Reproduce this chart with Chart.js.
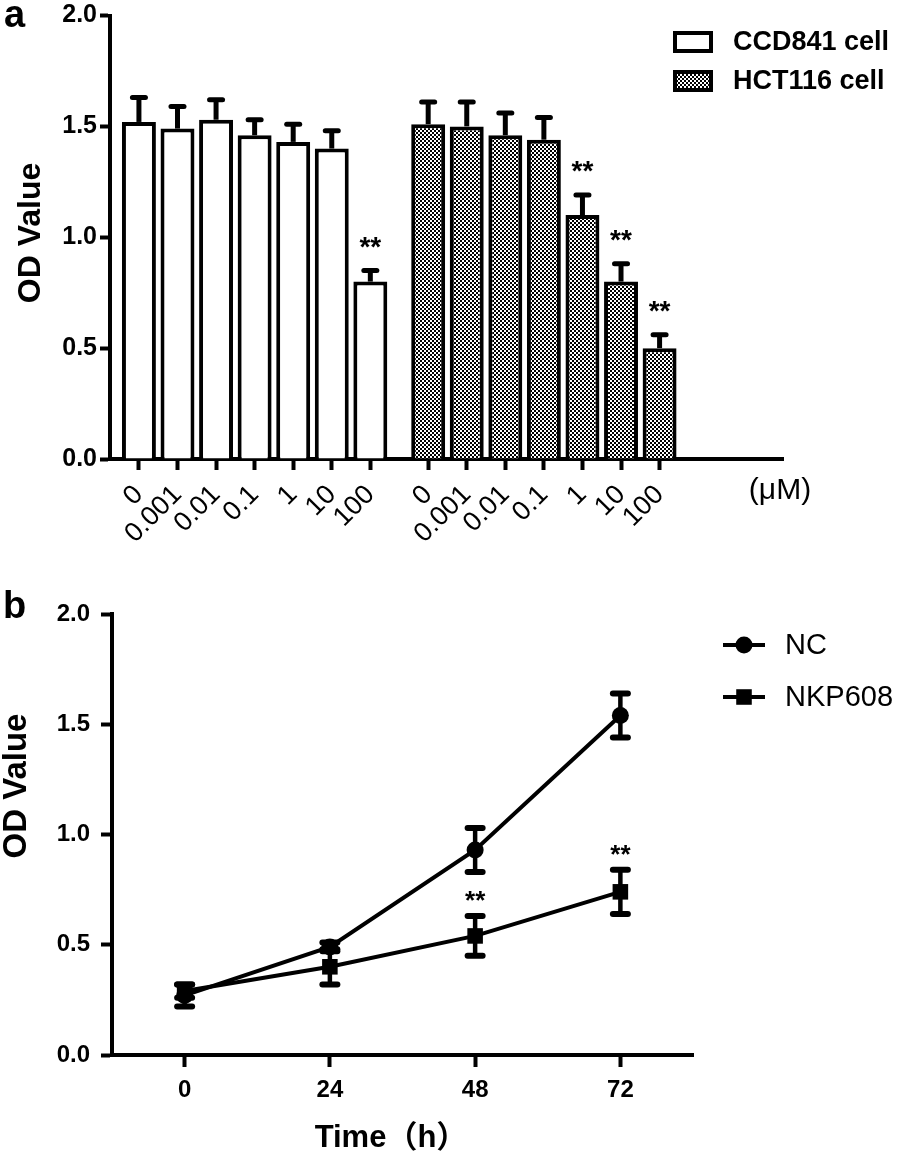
<!DOCTYPE html>
<html><head><meta charset="utf-8">
<script src="https://cdn.jsdelivr.net/npm/chart.js@4.4.1/dist/chart.umd.min.js"></script>
<style>
html,body{margin:0;padding:0;background:#fff;}
#wrap{position:relative;width:904px;height:1155px;overflow:hidden;background:#fff;}
canvas{position:absolute;left:0;}
#ca{top:0;} #cb{top:580px;}
</style></head><body>
<div id="wrap"><canvas id="ca" width="904" height="580"></canvas><canvas id="cb" width="904" height="575"></canvas></div>
<script>
// ---------- Panel a data ----------
const concentrations = ['0','0.001','0.01','0.1','1','10','100'];
const ccdValues = [1.52, 1.49, 1.53, 1.46, 1.43, 1.40, 0.80];
const ccdErrors = [0.11, 0.10, 0.09, 0.07, 0.08, 0.08, 0.05];
const ccdSig    = ['', '', '', '', '', '', '**'];
const hctValues = [1.51, 1.50, 1.46, 1.44, 1.10, 0.80, 0.50];
const hctErrors = [0.10, 0.11, 0.10, 0.10, 0.09, 0.08, 0.06];
const hctSig    = ['', '', '', '', '**', '**', '**'];
const yTicksA   = [0, 0.5, 1.0, 1.5, 2.0];
const seriesNamesA = ['CCD841 cell', 'HCT116 cell'];
const unitLabelA = '(μM)';

// ---------- Panel b data ----------
const times     = [0, 24, 48, 72];
const ncValues  = [0.27, 0.49, 0.93, 1.54];
const ncErrors  = [0.05, 0.02, 0.10, 0.10];
const nkpValues = [0.29, 0.40, 0.54, 0.74];
const nkpErrors = [0.03, 0.08, 0.09, 0.10];
const nkpSig    = ['', '', '**', '**'];
const yTicksB   = [0, 0.5, 1.0, 1.5, 2.0];
const seriesNamesB = ['NC', 'NKP608'];
const xTitleB = 'Time（h）';
const yTitle = 'OD Value';

const SANS = '"Liberation Sans", Arial, Helvetica, sans-serif';
const TITLEFONT = '"Liberation Sans", "Noto Sans CJK SC", Arial, sans-serif';
Chart.defaults.color = '#000';
Chart.defaults.font.family = SANS;

// group layout for panel a (second group offset by 1.5 slots)
const GROUP2_OFFSET = concentrations.length + 0.5;
const xPosA = [...concentrations.map((_, i) => i), ...concentrations.map((_, i) => i + GROUP2_OFFSET)];
const xLabelsA = [...concentrations, ...concentrations];

function makePattern() {
  const c = document.createElement('canvas'); c.width = 4; c.height = 4;
  const g = c.getContext('2d');
  g.fillStyle = '#fff'; g.fillRect(0, 0, 4, 4);
  g.fillStyle = '#000'; g.fillRect(0, 0, 2, 2); g.fillRect(2, 2, 2, 2);
  return g.createPattern(c, 'repeat');
}
const checker = makePattern();

function rotatedText(ctx, text, x, y, font) {
  ctx.save(); ctx.translate(x, y); ctx.rotate(-Math.PI / 2);
  ctx.font = font; ctx.textAlign = 'center'; ctx.textBaseline = 'middle'; ctx.fillStyle = '#000';
  ctx.fillText(text, 0, 0); ctx.restore();
}

const axisCommon = (tickLen) => ({
  grid: { drawOnChartArea: false, drawTicks: true, tickLength: tickLen, tickWidth: 4, tickColor: '#000', color: '#000', offset: false },
  border: { display: true, color: '#000', width: 4 }
});

// ---------- Panel a ----------
const panelAPlugin = {
  id: 'panelA',
  afterDatasetsDraw(chart) {
    const ctx = chart.ctx, ys = chart.scales.y;
    const sets = [[ccdValues, ccdErrors, ccdSig], [hctValues, hctErrors, hctSig]];
    sets.forEach((s, di) => {
      chart.getDatasetMeta(di).data.forEach((bar, i) => {
        const top = ys.getPixelForValue(s[0][i] + s[1][i]);
        ctx.save();
        ctx.strokeStyle = '#000';
        ctx.lineWidth = 5;
        ctx.beginPath(); ctx.moveTo(bar.x, bar.y); ctx.lineTo(bar.x, top); ctx.stroke();
        ctx.lineWidth = 5; ctx.lineCap = 'round';
        ctx.beginPath(); ctx.moveTo(bar.x - 6.5, top); ctx.lineTo(bar.x + 6.5, top); ctx.stroke();
        if (s[2][i]) {
          ctx.font = 'bold 28px ' + SANS; ctx.textAlign = 'center'; ctx.textBaseline = 'alphabetic'; ctx.fillStyle = '#000';
          ctx.fillText(s[2][i], bar.x, top - 15);
        }
        ctx.restore();
      });
    });
  },
  afterDraw(chart) {
    const ctx = chart.ctx;
    ctx.save();
    // legend
    const fills = chart.data.datasets.map(d => d.backgroundColor);
    const rows = [42, 81];
    seriesNamesA.forEach((name, i) => {
      ctx.fillStyle = fills[i];
      ctx.fillRect(675, rows[i] - 9, 36, 18);
      ctx.strokeStyle = '#000'; ctx.lineWidth = 4;
      ctx.strokeRect(675, rows[i] - 9, 36, 18);
      ctx.fillStyle = '#000'; ctx.font = 'bold 27px ' + SANS; ctx.textAlign = 'left'; ctx.textBaseline = 'middle';
      ctx.fillText(name, 733, rows[i] + 1);
    });
    // unit label
    ctx.font = '30px ' + SANS; ctx.textAlign = 'center'; ctx.textBaseline = 'middle';
    ctx.fillText(unitLabelA, 780, 491);
    // panel letter
    ctx.font = 'bold 38px ' + SANS; ctx.textAlign = 'left'; ctx.textBaseline = 'alphabetic';
    ctx.fillText('a', 4, 27);
    ctx.restore();
    rotatedText(ctx, yTitle, 31, 233, 'bold 32px ' + SANS);
  }
};

new Chart(document.getElementById('ca'), {
  type: 'bar',
  data: {
    datasets: [
      { label: seriesNamesA[0], data: ccdValues.map((v, i) => ({ x: xPosA[i], y: v })),
        backgroundColor: '#fff', borderColor: '#000', borderWidth: 4, grouped: false,
        barPercentage: 0.88, categoryPercentage: 1 },
      { label: seriesNamesA[1], data: hctValues.map((v, i) => ({ x: xPosA[i + concentrations.length], y: v })),
        backgroundColor: checker, borderColor: '#000', borderWidth: 4, grouped: false,
        barPercentage: 0.88, categoryPercentage: 1 }
    ]
  },
  options: {
    responsive: false, animation: false, devicePixelRatio: 1,
    layout: { padding: { left: 0, right: 121, top: 13, bottom: 0 } },
    plugins: { legend: { display: false }, tooltip: { enabled: false } },
    scales: {
      x: Object.assign({
        type: 'linear', min: -0.75, max: 16.7, offset: false,
        afterBuildTicks: s => { s.ticks = xPosA.map(v => ({ value: v })); },
        afterFit: s => { s.height = 121; },
        ticks: { autoSkip: false, minRotation: 45, maxRotation: 45, padding: 9,
          callback: (v, i) => xLabelsA[i], font: { family: SANS, size: 27 }, color: '#000' }
      }, axisCommon(11)),
      y: Object.assign({
        type: 'linear', min: 0, max: 2,
        afterBuildTicks: s => { s.ticks = yTicksA.map(v => ({ value: v })); },
        afterFit: s => { s.width = 110; },
        ticks: { padding: 3, callback: v => Number(v).toFixed(1),
          font: { family: SANS, size: 25, weight: 'bold', lineHeight: 1 }, color: '#000' }
      }, axisCommon(10))
    }
  },
  plugins: [panelAPlugin]
});

// ---------- Panel b ----------
const panelBPlugin = {
  id: 'panelB',
  afterDatasetsDraw(chart) {
    const ctx = chart.ctx, ys = chart.scales.y;
    const sets = [[ncValues, ncErrors, null], [nkpValues, nkpErrors, nkpSig]];
    sets.forEach((s, di) => {
      chart.getDatasetMeta(di).data.forEach((pt, i) => {
        const top = ys.getPixelForValue(s[0][i] + s[1][i]);
        const bot = ys.getPixelForValue(s[0][i] - s[1][i]);
        ctx.save(); ctx.strokeStyle = '#000';
        ctx.lineWidth = 4.5;
        ctx.beginPath(); ctx.moveTo(pt.x, bot); ctx.lineTo(pt.x, top); ctx.stroke();
        ctx.lineWidth = 6; ctx.lineCap = 'round';
        ctx.beginPath(); ctx.moveTo(pt.x - 7.5, top); ctx.lineTo(pt.x + 7.5, top); ctx.stroke();
        ctx.beginPath(); ctx.moveTo(pt.x - 7.5, bot); ctx.lineTo(pt.x + 7.5, bot); ctx.stroke();
        if (s[2] && s[2][i]) {
          ctx.font = 'bold 26px ' + SANS; ctx.textAlign = 'center'; ctx.textBaseline = 'alphabetic'; ctx.fillStyle = '#000';
          ctx.fillText(s[2][i], pt.x, top - 7);
        }
        ctx.restore();
      });
    });
  },
  afterDraw(chart) {
    const ctx = chart.ctx;
    ctx.save();
    const rows = [65, 117];
    chart.data.datasets.forEach((d, i) => {
      const y = rows[i];
      ctx.strokeStyle = '#000'; ctx.lineWidth = 4;
      ctx.beginPath(); ctx.moveTo(723, y); ctx.lineTo(765, y); ctx.stroke();
      ctx.fillStyle = '#000';
      if (d.pointStyle === 'circle') {
        ctx.beginPath(); ctx.arc(744, y, d.pointRadius, 0, Math.PI * 2); ctx.fill();
      } else {
        const h = d.pointRadius * Math.SQRT1_2;
        ctx.fillRect(744 - h, y - h, 2 * h, 2 * h);
      }
      ctx.font = '29px ' + SANS; ctx.textAlign = 'left'; ctx.textBaseline = 'middle';
      ctx.fillText(seriesNamesB[i], 785, y + 1);
    });
    ctx.font = 'bold 38px ' + SANS; ctx.textAlign = 'left'; ctx.textBaseline = 'alphabetic';
    ctx.fillText('b', 3, 38);
    ctx.font = 'bold 31px ' + TITLEFONT; ctx.textAlign = 'center'; ctx.textBaseline = 'middle';
    ctx.fillText(xTitleB, 391, 558);
    ctx.restore();
    rotatedText(ctx, yTitle, 17, 206, 'bold 33px ' + SANS);
  }
};

new Chart(document.getElementById('cb'), {
  type: 'line',
  data: {
    datasets: [
      { label: seriesNamesB[0], data: times.map((t, i) => ({ x: t, y: ncValues[i] })),
        borderColor: '#000', borderWidth: 4, tension: 0, pointStyle: 'circle', pointRadius: 8.5,
        pointBackgroundColor: '#000', pointBorderWidth: 0, pointBorderColor: '#000' },
      { label: seriesNamesB[1], data: times.map((t, i) => ({ x: t, y: nkpValues[i] })),
        borderColor: '#000', borderWidth: 4, tension: 0, pointStyle: 'rect', pointRadius: 11,
        pointBackgroundColor: '#000', pointBorderWidth: 0, pointBorderColor: '#000' }
    ]
  },
  options: {
    responsive: false, animation: false, devicePixelRatio: 1,
    layout: { padding: { left: 0, right: 211, top: 34, bottom: 0 } },
    plugins: { legend: { display: false }, tooltip: { enabled: false } },
    scales: {
      x: Object.assign({
        type: 'linear', min: -12, max: 84, offset: false,
        afterBuildTicks: s => { s.ticks = times.map(v => ({ value: v })); },
        afterFit: s => { s.height = 100; },
        ticks: { autoSkip: false, maxRotation: 0, padding: 9,
          font: { family: SANS, size: 24, weight: 'bold' }, color: '#000' }
      }, axisCommon(12)),
      y: Object.assign({
        type: 'linear', min: 0, max: 2,
        afterBuildTicks: s => { s.ticks = yTicksB.map(v => ({ value: v })); },
        afterFit: s => { s.width = 112; },
        ticks: { padding: 11, callback: v => Number(v).toFixed(1),
          font: { family: SANS, size: 24, weight: 'bold', lineHeight: 1 }, color: '#000' }
      }, axisCommon(11))
    }
  },
  plugins: [panelBPlugin]
});
</script>
</body></html>
